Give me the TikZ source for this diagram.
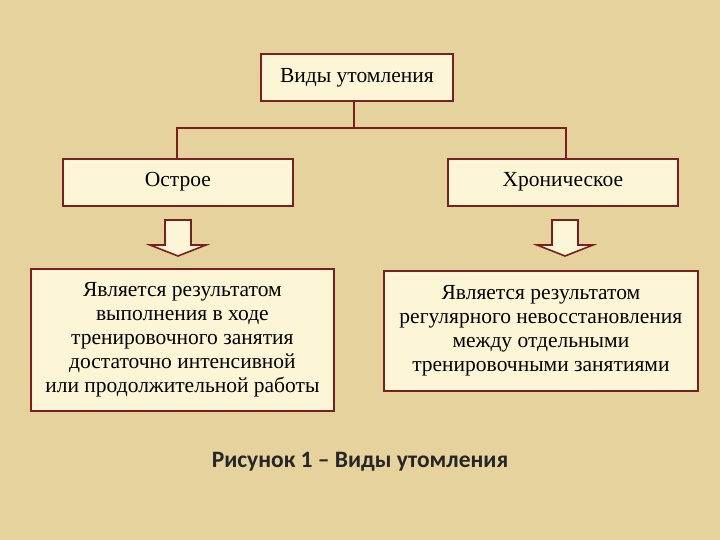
\documentclass[tikz,border=0pt]{standalone}
\usepackage{fontspec}
\setmainfont{Liberation Serif}
\newfontfamily\capfont{Carlito}
\begin{document}
\begin{tikzpicture}[x=1pt,y=-1pt]
\definecolor{bg}{HTML}{E6D29C}
\definecolor{bord}{HTML}{7A1F1F}
\definecolor{boxfill}{HTML}{FDF6D6}
\tikzset{
 bx/.style={draw=bord,line width=1.8pt,fill=boxfill,align=center,inner sep=0pt,font=\fontsize{21.5}{24}\selectfont},
 conn/.style={draw=bord,line width=1.5pt},
 barrow/.style={draw=bord,line width=1.6pt,fill=boxfill}
}
\fill[bg] (0,0) rectangle (720,540);
\node[bx,minimum width=192,minimum height=47,anchor=north west] (top) at (260,53) {\raisebox{2pt}{Виды утомления}};
\node[bx,minimum width=230,minimum height=47,anchor=north west] (a) at (62,158) {\raisebox{6pt}{Острое}};
\node[bx,minimum width=230,minimum height=47,anchor=north west] (b) at (447,158) {\raisebox{6pt}{Хроническое}};
\node[bx,minimum width=303,minimum height=142,anchor=north west] (ad) at (30,268) {Является результатом\\выполнения в ходе\\тренировочного занятия\\достаточно интенсивной\\или продолжительной работы};
\node[bx,minimum width=314,minimum height=120,anchor=north west] (bd) at (383,270) {Является результатом\\регулярного невосстановления\\между отдельными\\тренировочными занятиями};
\coordinate (m) at (354,128);
\draw[conn] (top.south -| m) -- (m);
\draw[conn] (a.north -| 177,0) |- (m) -| (b.north -| 566,0);
\foreach \cx in {178,565}{
 \draw[barrow] (\cx-13,220) -- (\cx+13,220) -- (\cx+13,245) -- (\cx+28,245) -- (\cx,256) -- (\cx-28,245) -- (\cx-13,245) -- cycle;
}
\node[font=\capfont\bfseries\fontsize{23.5}{27}\selectfont,text=black!85] (cap) at (360,462) {Рисунок 1 – Виды утомления};
\end{tikzpicture}
\end{document}
